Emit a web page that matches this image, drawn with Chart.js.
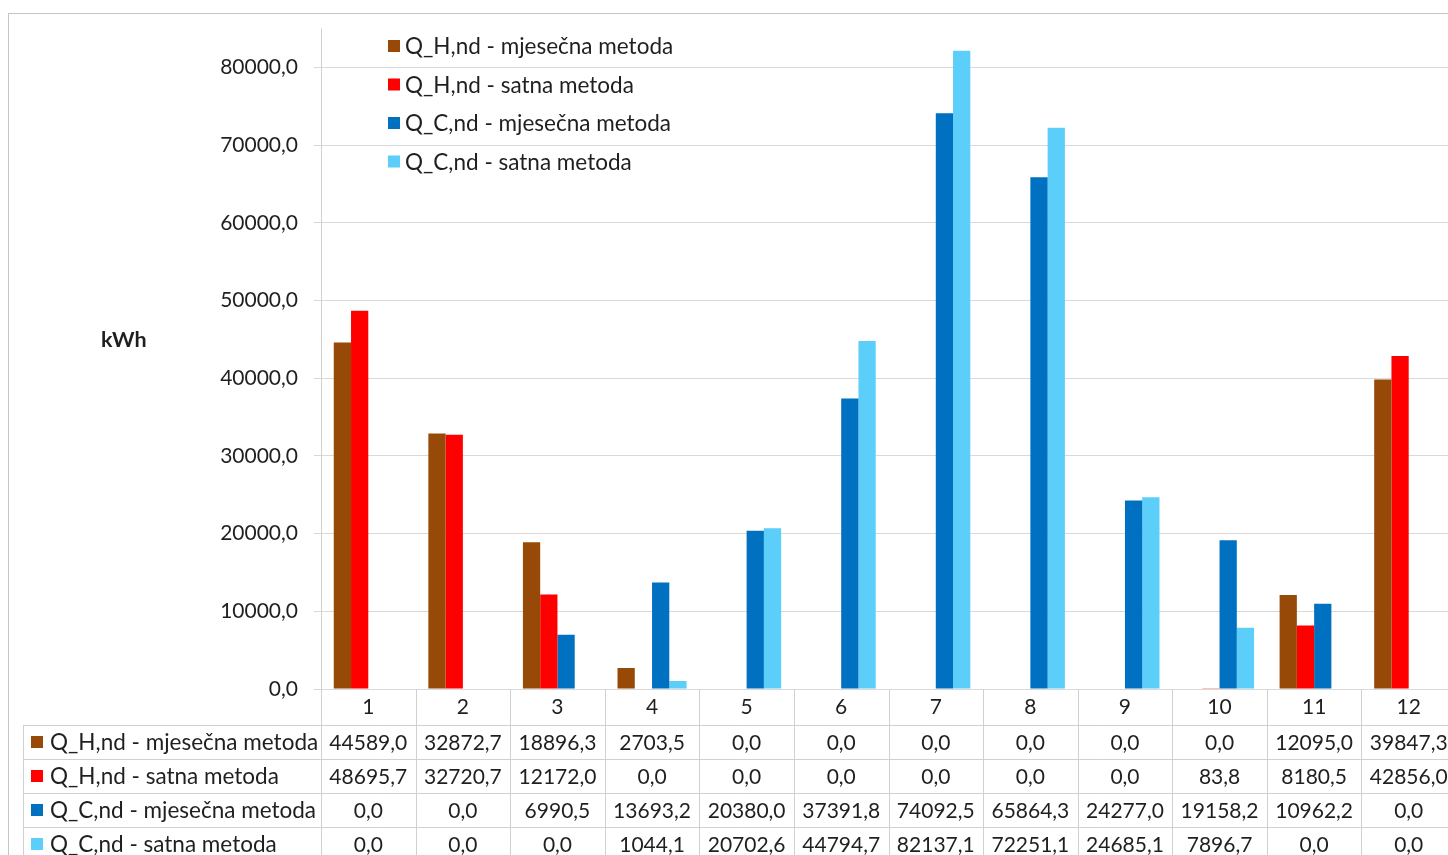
<!DOCTYPE html>
<html>
<head>
<meta charset="utf-8">
<script src="https://cdn.jsdelivr.net/npm/chart.js@4.4.0/dist/chart.umd.min.js"></script>
<style>
  html, body { margin: 0; padding: 0; background: #fff; overflow: hidden; }
  #wrap { position: absolute; left: 0; top: 0; width: 1480px; height: 900px; }
</style>
</head>
<body>
<div id="wrap"><canvas id="chart" width="1480" height="900"></canvas></div>
<script>
// months of the year
const months = ['1', '2', '3', '4', '5', '6', '7', '8', '9', '10', '11', '12'];

const seriesNames = [
  'Q_H,nd - mjesečna metoda',
  'Q_H,nd - satna metoda',
  'Q_C,nd - mjesečna metoda',
  'Q_C,nd - satna metoda'
];
const seriesColors = ['#974a07', '#ff0000', '#0070c0', '#5bcefa'];

const heatMonthly = [44589.0, 32872.7, 18896.3, 2703.5, 0.0, 0.0, 0.0, 0.0, 0.0, 0.0, 12095.0, 39847.3];
const heatHourly  = [48695.7, 32720.7, 12172.0, 0.0, 0.0, 0.0, 0.0, 0.0, 0.0, 83.8, 8180.5, 42856.0];
const coolMonthly = [0.0, 0.0, 6990.5, 13693.2, 20380.0, 37391.8, 74092.5, 65864.3, 24277.0, 19158.2, 10962.2, 0.0];
const coolHourly  = [0.0, 0.0, 0.0, 1044.1, 20702.6, 44794.7, 82137.1, 72251.1, 24685.1, 7896.7, 0.0, 0.0];

const yTicks = [0, 10000, 20000, 30000, 40000, 50000, 60000, 70000, 80000];
const yUnit = 'kWh';

const FONT = 'Lato, "Liberation Sans", sans-serif';
const TEXT = '#1f1f1f';
const LINE = '#d0d0d0';

function fmt(v) {
  return v.toFixed(1).replace('.', ',');
}

const allSeries = [heatMonthly, heatHourly, coolMonthly, coolHourly];

// draws the border, the top legend, the unit label and the data table under the axis
const excelBits = {
  id: 'excelBits',
  beforeDraw(chart) {
    const ctx = chart.ctx;
    ctx.save();
    ctx.fillStyle = '#fff';
    ctx.fillRect(0, 0, chart.width, chart.height);
    ctx.strokeStyle = '#c4c4c4';
    ctx.lineWidth = 1;
    ctx.strokeRect(8.5, 13.5, chart.width, chart.height);
    ctx.restore();
  },
  afterDraw(chart) {
    const ctx = chart.ctx;
    const x = chart.scales.x;
    const area = chart.chartArea;
    const colW = (area.right - area.left) / months.length;
    const rowTop = area.bottom + 36;
    const rowH = 34;
    const tableLeft = 23;
    const tableBottom = rowTop + rowH * allSeries.length;

    ctx.save();
    ctx.strokeStyle = LINE;
    ctx.lineWidth = 1;
    ctx.beginPath();
    // category column borders, including the axis line
    for (let i = 0; i <= months.length; i++) {
      const px = Math.round(area.left + i * colW) + 0.5;
      ctx.moveTo(px, i === 0 ? area.top : area.bottom);
      ctx.lineTo(px, tableBottom);
    }
    ctx.moveTo(tableLeft + 0.5, rowTop);
    ctx.lineTo(tableLeft + 0.5, tableBottom);
    for (let r = 0; r <= allSeries.length; r++) {
      const py = Math.round(rowTop + r * rowH) + 0.5;
      ctx.moveTo(tableLeft, py);
      ctx.lineTo(area.right, py);
    }
    ctx.stroke();

    ctx.fillStyle = TEXT;
    ctx.textBaseline = 'middle';
    allSeries.forEach((vals, r) => {
      const cy = rowTop + r * rowH + rowH / 2;
      ctx.fillStyle = seriesColors[r];
      ctx.fillRect(31, cy - 6, 12, 12);
      ctx.fillStyle = TEXT;
      ctx.textAlign = 'left';
      ctx.font = '22.5px ' + FONT;
      ctx.fillText(seriesNames[r], 50, cy + 1);
      ctx.textAlign = 'center';
      ctx.font = '21px ' + FONT;
      vals.forEach((v, i) => {
        ctx.fillText(fmt(v), x.getPixelForValue(i), cy + 1);
      });
    });

    // legend inside the plot
    ctx.textAlign = 'left';
    ctx.font = '22.5px ' + FONT;
    seriesNames.forEach((name, i) => {
      const cy = 46 + i * 38.5;
      ctx.fillStyle = seriesColors[i];
      ctx.fillRect(388, cy - 6, 12, 12);
      ctx.fillStyle = TEXT;
      ctx.fillText(name, 405, cy + 1);
    });

    ctx.font = 'bold 21.5px ' + FONT;
    ctx.fillText(yUnit, 101, 340);
    ctx.restore();
  }
};

const datasets = allSeries.map((vals, i) => ({
  label: seriesNames[i],
  data: vals,
  backgroundColor: seriesColors[i],
  borderWidth: 0
}));

new Chart(document.getElementById('chart'), {
  type: 'bar',
  data: { labels: months, datasets: datasets },
  options: {
    responsive: false,
    animation: false,
    devicePixelRatio: 1,
    layout: { padding: { top: 27, right: 24, left: 0, bottom: 0 } },
    datasets: { bar: { categoryPercentage: 0.73, barPercentage: 1.0 } },
    plugins: { legend: { display: false }, tooltip: { enabled: false } },
    scales: {
      x: {
        grid: { display: false, drawTicks: false },
        border: { display: false },
        ticks: { color: TEXT, font: { family: FONT, size: 21 }, padding: 6, maxRotation: 0 },
        afterFit(scale) { scale.height = 900 - 689; }
      },
      y: {
        min: 0,
        max: 85000,
        afterBuildTicks(scale) {
          scale.ticks = yTicks.map(v => ({ value: v }));
        },
        ticks: {
          color: TEXT,
          font: { family: FONT, size: 21 },
          padding: 16,
          callback: v => fmt(v)
        },
        grid: { color: '#d9d9d9', tickLength: 7, lineWidth: 1 },
        border: { display: false },
        afterFit(scale) { scale.width = 321; }
      }
    }
  },
  plugins: [excelBits]
});
</script>
</body>
</html>
